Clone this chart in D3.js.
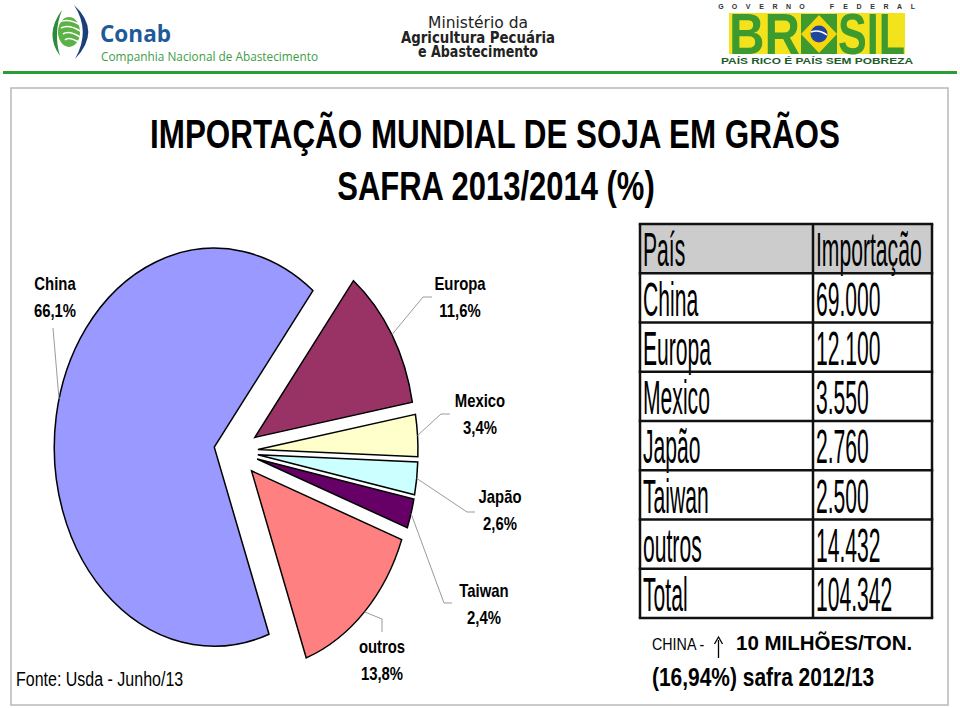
<!DOCTYPE html>
<html>
<head>
<meta charset="utf-8">
<script src="https://cdn.jsdelivr.net/npm/d3@7"></script>
<style>
  body { margin: 0; background: #fff; }
  svg { display: block; }
</style>
</head>
<body>
<div id="chart"></div>
<script>
const paises = ["China", "Europa", "Mexico", "Japão", "Taiwan", "outros"];
const importacao = [69000, 12100, 3550, 2760, 2500, 14432];
const sliceColors = ["#9999ff", "#993366", "#ffffcc", "#ccffff", "#660066", "#ff8080"];
const tableHeader = ["País", "Importação"];
const totalLabel = "Total";

const titleLines = ["IMPORTAÇÃO MUNDIAL DE SOJA EM GRÃOS", "SAFRA 2013/2014 (%)"];
const fonteText = "Fonte: Usda - Junho/13";

// Label placement for the pie (annotation layout, page coords)
const labelLayout = [
  { x: 55,  y: 290, leader: [[53, 328]], angle: 284 },
  { x: 460, y: 290, leader: [[423, 297], [432, 297]] },
  { x: 480, y: 407, leader: [[441, 414], [450, 414]] },
  { x: 500, y: 503, leader: [[467, 512], [475, 512]] },
  { x: 484, y: 597, leader: [[444, 603], [452, 603]] },
  { x: 382, y: 653, leader: [[382, 619], [382, 632]] }
];

const W = 960, H = 708;
const FONT = "'Liberation Sans', Arial, Helvetica, sans-serif";

// pt-BR number formats
const ptBR = d3.formatLocale({ decimal: ",", thousands: ".", grouping: [3], currency: ["R$", ""] });
const fmtNum = ptBR.format(",");
const fmtPct = ptBR.format(".1%");

const svg = d3.select("#chart").append("svg")
  .attr("width", W)
  .attr("height", H);

// helper: text squeezed horizontally (the slide is narrow)
function addText(parent, str, x, y, o) {
  return parent.append("text")
    .attr("transform", `translate(${x},${y}) scale(${o.sx || 1},1)`)
    .attr("text-anchor", o.anchor || "start")
    .attr("font-family", o.family || FONT)
    .attr("font-size", o.size)
    .attr("font-weight", o.weight || "normal")
    .attr("fill", o.fill || "#000")
    .text(str);
}

// ---------- header logos ----------
const header = svg.append("g");

// Conab
header.append("path")
  .attr("d", "M62 10 Q44 34 60 56 Q53 33 62 10 Z")
  .attr("fill", "#2e8b3a");
header.append("ellipse")
  .attr("cx", 69).attr("cy", 32).attr("rx", 11).attr("ry", 15)
  .attr("fill", "#5cb246");
[0, 1, 2, 3].forEach(i => {
  header.append("path")
    .attr("d", `M${59 + i * 2} ${22 + i * 6} Q${69} ${18 + i * 6} ${80} ${25 + i * 6}`)
    .attr("fill", "none").attr("stroke", "#fff").attr("stroke-width", 1.6);
});
header.append("path")
  .attr("d", "M74 5 Q102 31 75 59 Q91 31 74 5 Z")
  .attr("fill", "#1b3f7a");
header.append("text")
  .attr("x", 100).attr("y", 42)
  .attr("font-family", "'Open Sans', 'DejaVu Sans', sans-serif")
  .attr("font-weight", "bold").attr("font-size", 24)
  .attr("textLength", 71).attr("lengthAdjust", "spacingAndGlyphs")
  .attr("fill", "#1f5a98").text("Conab");
header.append("text")
  .attr("x", 101).attr("y", 61)
  .attr("font-family", "'Open Sans', 'DejaVu Sans', sans-serif")
  .attr("font-size", 13)
  .attr("textLength", 217).attr("lengthAdjust", "spacingAndGlyphs")
  .attr("fill", "#3d9e45").text("Companhia Nacional de Abastecimento");

// Ministério
[["Ministério da", 28, "normal", 100], ["Agricultura Pecuária", 43, "bold", 154], ["e Abastecimento", 57, "bold", 120]]
  .forEach(([t, y, w, len]) => {
    header.append("text")
      .attr("x", 478).attr("y", y).attr("text-anchor", "middle")
      .attr("font-family", "'DejaVu Sans', sans-serif")
      .attr("font-size", 15.5).attr("font-weight", w)
      .attr("textLength", len).attr("lengthAdjust", "spacingAndGlyphs")
      .attr("fill", "#222").text(t);
  });

// Governo Federal / Brasil
const govLetters = "GOVERNO".split("").map((c, i) => ({ c, x: 721 + i * 13.5 }))
  .concat("FEDERAL".split("").map((c, i) => ({ c, x: 832 + i * 13.5 })));
header.selectAll("text.gov")
  .data(govLetters)
  .enter()
  .append("text")
  .attr("class", "gov")
  .attr("x", d => d.x).attr("y", 9)
  .attr("text-anchor", "middle")
  .attr("font-family", FONT).attr("font-size", 7).attr("font-weight", "bold")
  .attr("fill", "#333").text(d => d.c);
header.append("rect")
  .attr("x", 729).attr("y", 13).attr("width", 176).attr("height", 41)
  .attr("fill", "#f3e31c");
header.append("text")
  .attr("x", 729).attr("y", 54)
  .attr("font-family", FONT).attr("font-size", 57).attr("font-weight", "bold")
  .attr("textLength", 71).attr("lengthAdjust", "spacingAndGlyphs")
  .attr("fill", "#3c9a2e").text("BR");
header.append("text")
  .attr("x", 838).attr("y", 54)
  .attr("font-family", FONT).attr("font-size", 57).attr("font-weight", "bold")
  .attr("textLength", 67).attr("lengthAdjust", "spacingAndGlyphs")
  .attr("fill", "#3c9a2e").text("SIL");
header.append("rect")
  .attr("x", 801).attr("y", 14).attr("width", 36).attr("height", 40)
  .attr("fill", "#3c9a2e");
header.append("path")
  .attr("d", "M819 15 L837 34 L819 53 L801 34 Z")
  .attr("fill", "#f6d70b");
header.append("circle")
  .attr("cx", 819).attr("cy", 34).attr("r", 8.5)
  .attr("fill", "#20479b");
header.append("path")
  .attr("d", "M811 32 Q819 29 827 35")
  .attr("fill", "none").attr("stroke", "#fff").attr("stroke-width", 1.5);
header.append("text")
  .attr("x", 721).attr("y", 64)
  .attr("font-family", FONT).attr("font-size", 9).attr("font-weight", "bold")
  .attr("textLength", 192).attr("lengthAdjust", "spacingAndGlyphs")
  .attr("fill", "#1e5a2c").text("PAÍS RICO É PAÍS SEM POBREZA");

// green rule under the header
svg.append("line")
  .attr("x1", 3).attr("x2", 957).attr("y1", 72.5).attr("y2", 72.5)
  .attr("stroke", "#2c9c36").attr("stroke-width", 3);

// ---------- slide frame ----------
svg.append("rect")
  .attr("x", 11).attr("y", 88).attr("width", 937).attr("height", 617)
  .attr("fill", "none").attr("stroke", "#b8b8b8").attr("stroke-width", 1.5);

// ---------- title ----------
addText(svg, titleLines[0], 495, 148, { size: 40, weight: "bold", sx: 0.785, anchor: "middle" });
addText(svg, titleLines[1], 496, 200, { size: 40, weight: "bold", sx: 0.775, anchor: "middle" });

// ---------- exploded pie (slide is stretched vertically) ----------
const pieData = paises.map((p, i) => ({ pais: p, valor: importacao[i] }));
const total = d3.sum(importacao);

const cx = 236, cy = 451.5, r = 160, sy = 199 / 160, explode = 22;
const start = 160 * Math.PI / 180;

const color = d3.scaleOrdinal().domain(paises).range(sliceColors);
const pie = d3.pie().sort(null).value(d => d.valor)
  .startAngle(start).endAngle(start + 2 * Math.PI);
const arc = d3.arc().innerRadius(0).outerRadius(r);
const arcs = pie(pieData);

const pieG = svg.append("g")
  .attr("transform", `translate(${cx},${cy}) scale(1,${sy})`);

pieG.selectAll("path")
  .data(arcs)
  .enter()
  .append("path")
  .attr("d", arc)
  .attr("transform", d => {
    const mid = (d.startAngle + d.endAngle) / 2;
    return `translate(${explode * Math.sin(mid)},${-explode * Math.cos(mid)})`;
  })
  .attr("fill", d => color(d.data.pais))
  .attr("stroke", "#000")
  .attr("stroke-width", 1.5)
  .attr("stroke-linejoin", "miter")
  .attr("vector-effect", "non-scaling-stroke");

// leader lines + labels
const labelsG = svg.append("g");
arcs.forEach((d, i) => {
  const lay = labelLayout[i];
  const mid = (d.startAngle + d.endAngle) / 2;
  const a = lay.angle != null ? lay.angle * Math.PI / 180 : mid;
  const px = cx + explode * Math.sin(mid) + r * Math.sin(a);
  const py = cy + sy * (-explode * Math.cos(mid) - r * Math.cos(a));
  const pts = [[px, py]].concat(lay.leader);
  labelsG.append("path")
    .attr("d", d3.line()(pts))
    .attr("fill", "none")
    .attr("stroke", "#9a9a9a")
    .attr("stroke-width", 1);
  addText(labelsG, d.data.pais, lay.x, lay.y, { size: 18.6, weight: "bold", sx: 0.8, anchor: "middle" });
  addText(labelsG, fmtPct(d.data.valor / total), lay.x, lay.y + 27, { size: 18.6, weight: "bold", sx: 0.8, anchor: "middle" });
});

addText(svg, fonteText, 16, 686, { size: 20, sx: 0.8 });

// ---------- table ----------
const rows = [tableHeader]
  .concat(paises.map((p, i) => [p, fmtNum(importacao[i])]))
  .concat([[totalLabel, fmtNum(total)]]);

const colX = [640, 813, 932];
const rowY = d3.scaleBand().domain(d3.range(rows.length)).range([224, 618]);
const tableG = svg.append("g");

tableG.append("rect")
  .attr("x", colX[0]).attr("y", rowY(0))
  .attr("width", colX[2] - colX[0]).attr("height", rowY.bandwidth())
  .attr("fill", "#cccccc");

rows.forEach((row, i) => {
  row.forEach((cell, j) => {
    addText(tableG, cell, colX[j] + 3, rowY(i) + rowY.bandwidth() - 7, { size: 48, sx: 0.44 });
  });
});

d3.range(rows.length + 1).forEach(i => {
  const y = i < rows.length ? rowY(i) : rowY(rows.length - 1) + rowY.bandwidth();
  tableG.append("line")
    .attr("x1", colX[0] - 1.25).attr("x2", colX[2] + 1.25)
    .attr("y1", y).attr("y2", y)
    .attr("stroke", "#111").attr("stroke-width", 2.5);
});
colX.forEach(x => {
  tableG.append("line")
    .attr("x1", x).attr("x2", x)
    .attr("y1", 224).attr("y2", 618)
    .attr("stroke", "#111").attr("stroke-width", 2.5);
});

// ---------- note under the table ----------
addText(svg, "CHINA -", 652, 650, { size: 16.8, sx: 0.85 });
svg.append("line")
  .attr("x1", 718.5).attr("x2", 718.5).attr("y1", 640).attr("y2", 658)
  .attr("stroke", "#000").attr("stroke-width", 1.3);
svg.append("path")
  .attr("d", "M714.5 644 L718.5 637 L722.5 644")
  .attr("fill", "none").attr("stroke", "#000").attr("stroke-width", 1.3);
addText(svg, "10 MILHÕES/TON.", 736, 650, { size: 20.5, weight: "bold", sx: 1 });
addText(svg, "(16,94%) safra 2012/13", 652, 686, { size: 26.5, weight: "bold", sx: 0.79 });
</script>
</body>
</html>
